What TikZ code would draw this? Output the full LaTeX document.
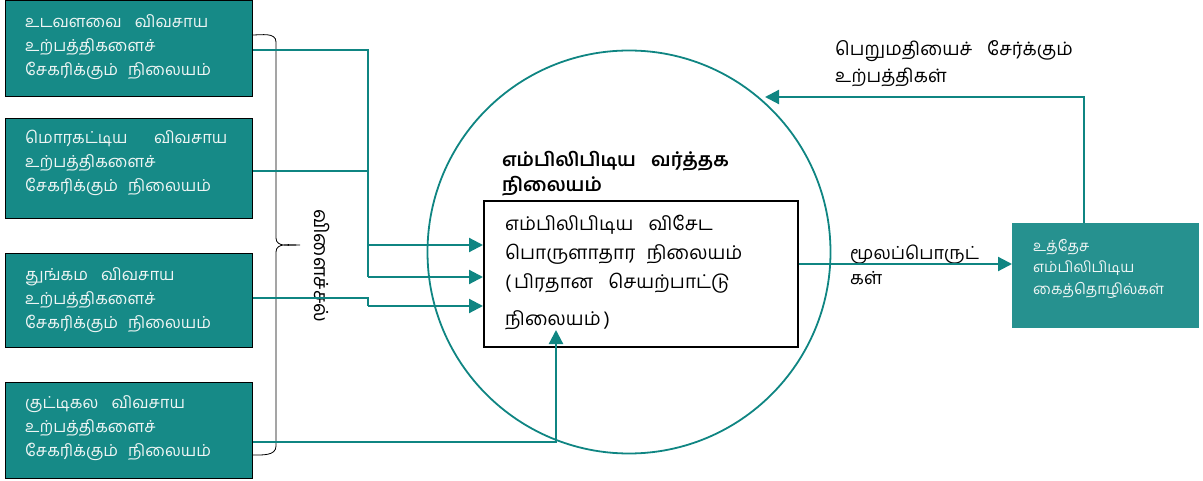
\documentclass[tikz,border=0pt]{standalone}
\usepackage{fontspec}
\setmainfont[Script=Tamil]{Hind Madurai}
\usetikzlibrary{arrows.meta}
\definecolor{boxteal}{HTML}{168A87}
\definecolor{rteal}{HTML}{26918F}
\definecolor{lineteal}{HTML}{0F8582}
\definecolor{boxtext}{HTML}{EEF5F4}
\tikzset{
  lbox/.style={draw=black, line width=0.8pt, fill=boxteal, anchor=north west, minimum width=247pt, minimum height=96pt, inner sep=0pt},
  ltext/.style={anchor=north west, align=left, text=boxtext, inner sep=0pt, font=\fontsize{16.5}{24}\selectfont},
  conn/.style={lineteal, line width=2.2pt},
  arr/.style={conn, -{Triangle[length=14pt,width=14pt]}},
  label/.style={anchor=north west, align=left, inner sep=0pt, font=\fontsize{18.5}{27}\selectfont},
}
\begin{document}
\begin{tikzpicture}[x=1pt,y=-1pt]
\useasboundingbox (0,0) rectangle (1203,481);
% left boxes
\node[lbox] (b1) at (5,0) {};
\node[lbox, minimum height=100pt] (b2) at (5,118) {};
\node[lbox, minimum height=94pt] (b3) at (5,253) {};
\node[lbox] (b4) at (5,382) {};
\node[ltext] (t1) at (25,14) {உடவளவை\hspace{0.8em}விவசாய\\உற்பத்திகளைச்\\சேகரிக்கும்\hspace{0.6em}நிலையம்};
\node[ltext] (t2) at (25,130) {மொரகட்டிய\hspace{1.6em}விவசாய\\உற்பத்திகளைச்\\சேகரிக்கும்\hspace{0.6em}நிலையம்};
\node[ltext] (t3) at (25,267) {துங்கம\hspace{0.8em}விவசாய\\உற்பத்திகளைச்\\சேகரிக்கும்\hspace{0.6em}நிலையம்};
\node[ltext] (t4) at (25,395) {குட்டிகல\hspace{0.8em}விவசாய\\உற்பத்திகளைச்\\சேகரிக்கும்\hspace{0.6em}நிலையம்};
% circle
\node[draw=lineteal, line width=1.8pt, circle, minimum size=403pt, inner sep=0pt] (circ) at (629,252) {};
% inner box
\node[draw=black, line width=1.8pt, fill=white, anchor=north west, minimum width=314pt, minimum height=146pt, inner sep=0pt] (inner) at (483,200) {};
\node[anchor=north west, align=left, inner sep=0pt, font=\fontsize{19}{29}\selectfont] (innertext) at (505,215) {எம்பிலிபிடிய\hspace{0.8em}விசேட\\பொருளாதார\hspace{0.6em}நிலையம்\\(\,பிரதான\hspace{0.8em}செயற்பாட்டு\\[8pt]நிலையம்\,)};
\node[anchor=north west, align=left, inner sep=0pt, font=\bfseries\fontsize{19}{25}\selectfont] (title) at (502,151) {எம்பிலிபிடிய\hspace{0.8em}வர்த்தக\\நிலையம்};
% right box
\node[fill=rteal, anchor=north west, minimum width=187pt, minimum height=105pt, inner sep=0pt] (rbox) at (1012,223) {};
\node[anchor=north west, align=left, inner sep=0pt, text=boxtext, font=\fontsize{15}{21.5}\selectfont] (rtext) at (1033,239) {உத்தேச\\எம்பிலிபிடிய\\கைத்தொழில்கள்};
% labels
\node[label] (lab1) at (835,40) {பெறுமதியைச்\hspace{0.8em}சேர்க்கும்\\உற்பத்திகள்};
\node[label, font=\fontsize{18}{25}\selectfont] (lab2) at (850,245) {மூலப்பொருட்\\கள்};
\node[anchor=center, rotate=-90, inner sep=0pt, font=\fontsize{19.5}{22}\selectfont] (vlab) at (322,266) {விளைச்சல்};
% brace
\draw[black, line width=0.8pt] (252,35) to[out=0,in=90] (276,42) -- (276,238) to[out=-90,in=180] (300,245) to[out=180,in=90] (276,252) -- (276,446) to[out=-90,in=0] (252,455);
% connectors
\coordinate (j1) at (368,50);
\coordinate (j2) at (368,277);
\coordinate (j3) at (368,306);
\coordinate (j4) at (556,442);
\coordinate (fb1) at (1084,97);
\draw[conn] (b1.east |- j1) -- (j1) -- (j2);
\draw[conn] (b2.east |- 0,171) -- (368,171);
\draw[arr] (368,245) -- (inner.west |- 0,245);
\draw[arr] (j2) -- (inner.west |- j2);
\draw[conn] (b3.east |- 0,298) -- (368,298) -- (j3);
\draw[arr] (j3) -- (inner.west |- j3);
\draw[arr] (b4.east |- j4) -- (j4) -- (556,330);
\draw[arr] (inner.east |- 0,264) -- (rbox.west |- 0,264);
\draw[arr] (rbox.north -| fb1) -- (fb1) -- (765,97);
\end{tikzpicture}
\end{document}
